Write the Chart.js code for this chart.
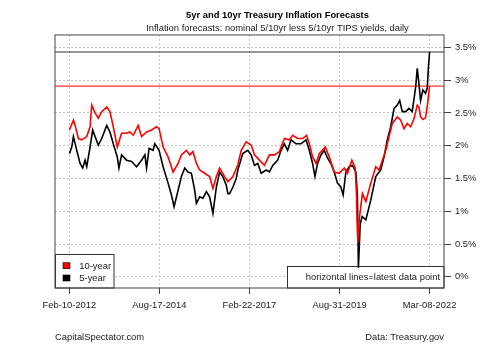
<!DOCTYPE html>
<html>
<head>
<meta charset="utf-8">
<script src="https://cdn.jsdelivr.net/npm/chart.js@4"></script>
<style>
    html, body { margin: 0; padding: 0; background: #ffffff; }
    #wrap { width: 500px; height: 346px; }
</style>
</head>
<body>
<div id="wrap"><canvas id="inflation-chart" width="500" height="346"></canvas></div>
<script>
// series names (legend order)
const seriesNames = ['10-year', '5-year'];

// 10-year breakeven
const dates10 = [
    '2012-02-10','2012-03-22','2012-04-08','2012-05-12','2012-06-15','2012-08-05','2012-09-08','2012-09-25',
    '2012-10-29','2012-12-01','2013-01-05','2013-02-25','2013-03-30','2013-05-03','2013-06-13','2013-07-27',
    '2013-09-16','2013-10-20','2013-11-23','2014-01-12','2014-02-16','2014-04-08','2014-05-29','2014-07-19',
    '2014-08-14','2014-09-24','2014-11-14','2015-01-04','2015-02-24','2015-03-30','2015-05-20','2015-06-23',
    '2015-07-26','2015-08-30','2015-10-03','2015-11-22','2016-01-12','2016-02-15','2016-03-21','2016-04-23',
    '2016-06-13','2016-07-17','2016-09-06','2016-10-26','2016-11-30','2017-01-20','2017-03-12','2017-04-14',
    '2017-06-04','2017-07-25','2017-09-14','2017-11-04','2017-12-25','2018-02-14','2018-04-06','2018-05-09',
    '2018-06-29','2018-08-19','2018-09-29','2018-10-26','2018-11-29','2019-01-03','2019-02-05','2019-04-07',
    '2019-05-18','2019-07-08','2019-08-28','2019-10-18','2019-11-20','2020-01-04','2020-02-07','2020-02-20',
    '2020-02-27','2020-03-05','2020-03-21','2020-04-21','2020-05-26','2020-07-15','2020-09-04','2020-10-08',
    '2020-11-11','2020-12-15','2021-01-18','2021-02-20','2021-04-12','2021-05-17','2021-06-19','2021-07-23',
    '2021-08-27','2021-09-29','2021-11-02','2021-11-19','2021-12-06','2021-12-29','2022-01-26','2022-02-12',
    '2022-03-08'
];
const vals10 = [
    2.24, 2.39, 2.31, 2.11, 2.09, 2.14, 2.29, 2.62,
    2.50, 2.42, 2.52, 2.59, 2.52, 2.29, 1.98, 2.19,
    2.19, 2.21, 2.16, 2.31, 2.14, 2.21, 2.24, 2.29,
    2.26, 1.98, 1.83, 1.60, 1.73, 1.86, 1.93, 1.86,
    1.91, 1.73, 1.63, 1.58, 1.53, 1.35, 1.53, 1.66,
    1.53, 1.45, 1.53, 1.71, 1.93, 2.06, 2.01, 1.86,
    1.78, 1.70, 1.86, 1.86, 1.91, 2.11, 2.09, 2.16,
    2.11, 2.11, 2.16, 2.03, 1.83, 1.73, 1.88, 1.98,
    1.83, 1.60, 1.58, 1.66, 1.58, 1.78, 1.66, 1.27,
    0.80, 0.52, 0.90, 1.27, 1.15, 1.43, 1.68, 1.63,
    1.78, 1.93, 2.14, 2.34, 2.44, 2.39, 2.26, 2.34,
    2.29, 2.41, 2.62, 2.59, 2.44, 2.40, 2.43, 2.60,
    2.91
];

// 5-year breakeven
const dates5 = [
    '2012-02-10','2012-03-05','2012-03-22','2012-04-25','2012-05-29','2012-06-25','2012-07-19','2012-08-05',
    '2012-09-08','2012-10-05','2012-10-29','2012-12-01','2013-01-05','2013-02-25','2013-03-30','2013-05-03',
    '2013-06-13','2013-06-30','2013-07-27','2013-09-16','2013-11-06','2013-12-27','2014-02-16','2014-03-22',
    '2014-04-08','2014-05-04','2014-06-14','2014-07-01','2014-08-14','2014-09-24','2014-11-14','2014-12-18',
    '2015-01-14','2015-02-24','2015-03-30','2015-05-03','2015-06-05','2015-07-10','2015-08-13','2015-08-30',
    '2015-10-03','2015-11-05','2015-12-10','2016-01-12','2016-02-15','2016-03-21','2016-04-23','2016-05-25',
    '2016-06-30','2016-07-17','2016-08-03','2016-09-06','2016-10-10','2016-10-26','2016-12-16','2017-02-05',
    '2017-03-12','2017-04-14','2017-05-18','2017-06-22','2017-08-12','2017-09-14','2017-10-18','2017-12-08',
    '2018-01-11','2018-02-14','2018-03-19','2018-04-23','2018-06-13','2018-08-03','2018-09-23','2018-10-26',
    '2018-11-29','2018-12-23','2019-01-19','2019-02-22','2019-03-28','2019-05-01','2019-06-04','2019-07-08',
    '2019-08-10','2019-09-14','2019-10-07','2019-11-04','2019-12-08','2020-01-10','2020-02-14','2020-03-01',
    '2020-03-11','2020-03-29','2020-04-18','2020-05-26','2020-07-15','2020-09-04','2020-10-25','2020-11-28',
    '2020-12-31','2021-02-04','2021-03-10','2021-04-12','2021-05-07','2021-06-02','2021-07-07','2021-08-09',
    '2021-09-12','2021-10-17','2021-11-02','2021-11-19','2021-12-06','2021-12-29','2022-01-26','2022-02-12',
    '2022-02-24','2022-03-08'
];
const vals5 = [
    1.88, 1.98, 2.14, 1.93, 1.73, 1.66, 1.78, 1.68,
    1.98, 2.24, 2.14, 2.01, 2.11, 2.31, 2.21, 2.03,
    1.83, 1.66, 1.86, 1.78, 1.76, 1.68, 1.78, 1.86,
    1.66, 1.96, 1.93, 2.03, 1.93, 1.68, 1.43, 1.25,
    1.07, 1.32, 1.53, 1.66, 1.60, 1.58, 1.32, 1.12,
    1.22, 1.20, 1.30, 1.22, 0.97, 1.37, 1.60, 1.53,
    1.40, 1.27, 1.27, 1.37, 1.50, 1.63, 1.88, 1.93,
    1.86, 1.70, 1.73, 1.58, 1.63, 1.60, 1.70, 1.78,
    1.93, 2.03, 1.93, 2.09, 2.03, 2.03, 2.09, 1.93,
    1.73, 1.53, 1.73, 1.86, 1.93, 1.81, 1.73, 1.60,
    1.43, 1.37, 1.25, 1.60, 1.68, 1.70, 1.60, 1.22,
    0.14, 0.80, 0.92, 0.87, 1.17, 1.53, 1.63, 1.83,
    2.09, 2.29, 2.57, 2.62, 2.69, 2.52, 2.52, 2.57,
    2.52, 2.90, 3.18, 2.95, 2.69, 2.85, 2.80, 2.88,
    3.20, 3.43
];

// axis ticks
const xTickDates = ['2012-02-10', '2014-08-17', '2017-02-22', '2019-08-31', '2022-03-08'];
const xTickLabels = ['Feb-10-2012', 'Aug-17-2014', 'Feb-22-2017', 'Aug-31-2019', 'Mar-08-2022'];
const yTicks = [0, 0.5, 1, 1.5, 2, 2.5, 3, 3.5];

const FONT = "'Liberation Sans', Arial, sans-serif";
const FS = 9.4;

// 日期 -> 距起始日的天数
const DAY_MS = 86400000;
const t0 = Date.parse(dates5[0]);
function toDay(s) {
    return (Date.parse(s) - t0) / DAY_MS;
}

const xTickDays = xTickDates.map(toDay);
const lastDay = toDay(dates5[dates5.length - 1]);
const xMin = -0.04 * lastDay;
const xMax = lastDay * 1.04;

const last10 = vals10[vals10.length - 1];
const last5 = vals5[vals5.length - 1];

// 图例和说明框、外框、底部文字
const overlayPlugin = {
    id: 'overlay',
    beforeDatasetsDraw(chart) {
        const ctx = chart.ctx;
        const a = chart.chartArea;
        ctx.save();
        ctx.lineWidth = 1;
        ctx.strokeStyle = '#333';
        ctx.fillStyle = '#fff';

        // legend box
        ctx.fillRect(a.left, a.bottom - 33.5, 59, 33.5);
        ctx.strokeRect(a.left + 0.5, a.bottom - 33.5, 58.5, 33.5);
        const colors = ['#ff0000', '#000000'];
        ctx.font = FS + 'px ' + FONT;
        ctx.textBaseline = 'middle';
        ctx.textAlign = 'left';
        seriesNames.forEach((name, i) => {
            const cy = a.bottom - 22.3 + i * 12.3;
            ctx.fillStyle = colors[i];
            ctx.fillRect(a.left + 8, cy - 3, 7, 6);
            ctx.strokeStyle = '#000';
            ctx.lineWidth = 0.6;
            ctx.strokeRect(a.left + 8, cy - 3, 7, 6);
            ctx.fillStyle = '#222';
            ctx.fillText(name, a.left + 24.3, cy + 0.5);
        });

        // note box
        ctx.lineWidth = 1;
        ctx.strokeStyle = '#333';
        ctx.fillStyle = '#fff';
        ctx.fillRect(a.right - 156.7, a.bottom - 22, 156.7, 22);
        ctx.strokeRect(a.right - 156.5, a.bottom - 21.5, 156.5, 21.5);
        ctx.fillStyle = '#222';
        ctx.textAlign = 'right';
        ctx.fillText('horizontal lines=latest data point', a.right - 4, a.bottom - 10.5);
        ctx.restore();
    },
    afterDraw(chart) {
        const ctx = chart.ctx;
        const a = chart.chartArea;
        ctx.save();
        ctx.strokeStyle = '#444';
        ctx.lineWidth = 1;
        ctx.strokeRect(a.left, a.top, a.right - a.left, a.bottom - a.top);

        ctx.font = FS + 'px ' + FONT;
        ctx.fillStyle = '#222';
        ctx.textBaseline = 'middle';
        ctx.textAlign = 'left';
        ctx.fillText('CapitalSpectator.com', a.left, 337);
        ctx.textAlign = 'right';
        ctx.fillText('Data: Treasury.gov', a.right, 337);
        ctx.restore();
    }
};

function initInflationChart() {
    const ctx = document.getElementById('inflation-chart');
    if (!ctx) return;

    new Chart(ctx, {
        type: 'line',
        data: {
            datasets: [
                {
                    label: seriesNames[0],
                    data: dates10.map((d, i) => ({ x: toDay(d), y: vals10[i] })),
                    borderColor: '#ff0000',
                    borderWidth: 1.6,
                    pointRadius: 0,
                    tension: 0
                },
                {
                    label: seriesNames[1],
                    data: dates5.map((d, i) => ({ x: toDay(d), y: vals5[i] })),
                    borderColor: '#000000',
                    borderWidth: 1.6,
                    pointRadius: 0,
                    tension: 0
                },
                {
                    // latest 10-year value
                    label: 'latest10',
                    data: [{ x: xMin, y: last10 }, { x: xMax, y: last10 }],
                    borderColor: '#ff0000',
                    borderWidth: 1,
                    pointRadius: 0
                },
                {
                    // latest 5-year value
                    label: 'latest5',
                    data: [{ x: xMin, y: last5 }, { x: xMax, y: last5 }],
                    borderColor: '#333333',
                    borderWidth: 1.2,
                    pointRadius: 0
                }
            ]
        },
        options: {
            responsive: false,
            animation: false,
            events: [],
            layout: {
                padding: { left: 55, right: 0, top: 0, bottom: 0 }
            },
            plugins: {
                legend: { display: false },
                tooltip: { enabled: false },
                title: {
                    display: true,
                    text: '5yr and 10yr Treasury Inflation Forecasts',
                    color: '#000',
                    font: { family: FONT, size: FS, weight: 'bold', lineHeight: 1.2 },
                    padding: { top: 9.4, bottom: 0 }
                },
                subtitle: {
                    display: true,
                    text: 'Inflation forecasts: nominal 5/10yr less 5/10yr TIPS yields, daily',
                    color: '#222',
                    font: { family: FONT, size: FS, lineHeight: 1.2 },
                    padding: { top: 1.7, bottom: 1.3 }
                }
            },
            scales: {
                x: {
                    type: 'linear',
                    min: xMin,
                    max: xMax,
                    afterBuildTicks: (scale) => {
                        scale.ticks = xTickDays.map(v => ({ value: v }));
                    },
                    afterFit: (scale) => {
                        scale.height = 58;
                    },
                    ticks: {
                        autoSkip: false,
                        maxRotation: 0,
                        padding: 6,
                        color: '#222',
                        font: { family: FONT, size: FS },
                        callback: (value) => {
                            const i = xTickDays.findIndex(d => Math.abs(d - value) < 0.5);
                            return i >= 0 ? xTickLabels[i] : '';
                        }
                    },
                    grid: {
                        color: '#c4c4c4',
                        lineWidth: 1,
                        tickLength: 6,
                        tickColor: '#444',
                        tickWidth: 1,
                        tickBorderDash: []
                    },
                    border: { display: false, dash: [2, 2] }
                },
                y: {
                    type: 'linear',
                    position: 'right',
                    min: -0.17,
                    max: 3.69,
                    afterBuildTicks: (scale) => {
                        scale.ticks = yTicks.map(v => ({ value: v }));
                    },
                    afterFit: (scale) => {
                        scale.width = 56;
                    },
                    ticks: {
                        padding: 4,
                        color: '#222',
                        font: { family: FONT, size: FS },
                        callback: (value) => value + '%'
                    },
                    grid: {
                        color: '#c4c4c4',
                        lineWidth: 1,
                        tickLength: 7,
                        tickColor: '#444',
                        tickWidth: 1,
                        tickBorderDash: []
                    },
                    border: { display: false, dash: [2, 2] }
                }
            }
        },
        plugins: [overlayPlugin]
    });
}

initInflationChart();
</script>
</body>
</html>
